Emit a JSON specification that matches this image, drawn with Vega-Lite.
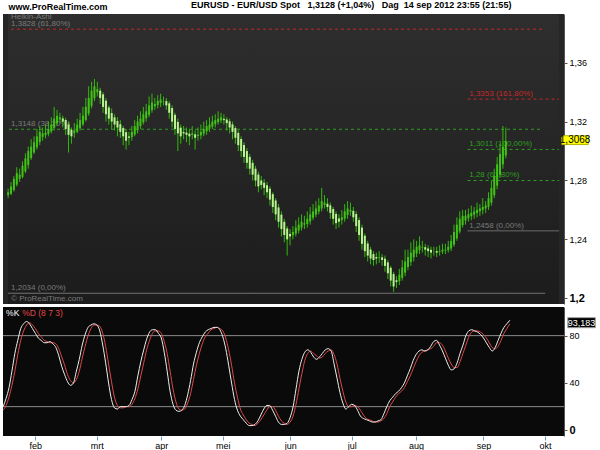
{
"$schema": "https://vega.github.io/schema/vega-lite/v6.json",
"background": "white",
"padding": {"left": 2, "top": 0, "right": 0, "bottom": 0},
"spacing": 3,
"config": {"font": "Liberation Sans", "view": {"stroke": null}},
"title": {"text": "www.ProRealTime.com", "anchor": "start", "fontSize": 9, "fontWeight": "bold", "color": "#000", "dx": 6, "dy": 11, "offset": 0},
"datasets": {
"candles": [
{"i":-11,"o":1.2700,"h":1.2745,"l":1.2680,"c":1.2720,"k":20,"d":17},
{"i":-10,"o":1.2710,"h":1.2790,"l":1.2700,"c":1.2760,"k":27,"d":21},
{"i":-9,"o":1.2735,"h":1.2830,"l":1.2725,"c":1.2810,"k":36,"d":28},
{"i":-8,"o":1.2772,"h":1.2890,"l":1.2760,"c":1.2850,"k":50,"d":38},
{"i":-7,"o":1.2811,"h":1.2880,"l":1.2790,"c":1.2840,"k":65,"d":50},
{"i":-6,"o":1.2825,"h":1.2930,"l":1.2815,"c":1.2900,"k":76,"d":64},
{"i":-5,"o":1.2862,"h":1.2985,"l":1.2850,"c":1.2950,"k":86,"d":76},
{"i":-4,"o":1.2906,"h":1.3030,"l":1.2880,"c":1.3000,"k":90,"d":84},
{"i":-3,"o":1.2953,"h":1.3080,"l":1.2940,"c":1.3030,"k":92,"d":89},
{"i":-2,"o":1.2991,"h":1.3100,"l":1.2980,"c":1.3060,"k":90,"d":91},
{"i":-1,"o":1.3025,"h":1.3150,"l":1.3010,"c":1.3100,"k":86,"d":89},
{"i":0,"o":1.3062,"h":1.3170,"l":1.3040,"c":1.3130,"k":82,"d":86},
{"i":1,"o":1.3096,"h":1.3160,"l":1.3070,"c":1.3120,"k":78,"d":82},
{"i":2,"o":1.3108,"h":1.3180,"l":1.3085,"c":1.3125,"k":76,"d":79},
{"i":3,"o":1.3116,"h":1.3200,"l":1.3100,"c":1.3150,"k":74,"d":76},
{"i":4,"o":1.3133,"h":1.3230,"l":1.3120,"c":1.3180,"k":74,"d":75},
{"i":5,"o":1.3156,"h":1.3300,"l":1.3140,"c":1.3220,"k":75,"d":74},
{"i":6,"o":1.3188,"h":1.3280,"l":1.3170,"c":1.3240,"k":73,"d":74},
{"i":7,"o":1.3214,"h":1.3260,"l":1.3190,"c":1.3230,"k":70,"d":73},
{"i":8,"o":1.3222,"h":1.3240,"l":1.3160,"c":1.3200,"k":63,"d":69},
{"i":9,"o":1.3211,"h":1.3225,"l":1.3110,"c":1.3150,"k":54,"d":62},
{"i":10,"o":1.3180,"h":1.3200,"l":1.2990,"c":1.3110,"k":47,"d":55},
{"i":11,"o":1.3145,"h":1.3160,"l":1.3050,"c":1.3100,"k":41,"d":47},
{"i":12,"o":1.3122,"h":1.3190,"l":1.3090,"c":1.3140,"k":38,"d":42},
{"i":13,"o":1.3131,"h":1.3220,"l":1.3120,"c":1.3180,"k":40,"d":40},
{"i":14,"o":1.3155,"h":1.3260,"l":1.3140,"c":1.3210,"k":50,"d":43},
{"i":15,"o":1.3182,"h":1.3300,"l":1.3170,"c":1.3240,"k":60,"d":50},
{"i":16,"o":1.3211,"h":1.3360,"l":1.3200,"c":1.3300,"k":72,"d":61},
{"i":17,"o":1.3255,"h":1.3440,"l":1.3240,"c":1.3360,"k":81,"d":71},
{"i":18,"o":1.3307,"h":1.3470,"l":1.3290,"c":1.3410,"k":87,"d":80},
{"i":19,"o":1.3358,"h":1.3490,"l":1.3340,"c":1.3440,"k":89,"d":86},
{"i":20,"o":1.3399,"h":1.3470,"l":1.3370,"c":1.3420,"k":90,"d":89},
{"i":21,"o":1.3410,"h":1.3430,"l":1.3320,"c":1.3360,"k":89,"d":89},
{"i":22,"o":1.3385,"h":1.3400,"l":1.3260,"c":1.3300,"k":84,"d":88},
{"i":23,"o":1.3342,"h":1.3360,"l":1.3200,"c":1.3250,"k":72,"d":82},
{"i":24,"o":1.3296,"h":1.3310,"l":1.3180,"c":1.3220,"k":57,"d":71},
{"i":25,"o":1.3258,"h":1.3290,"l":1.3150,"c":1.3200,"k":40,"d":56},
{"i":26,"o":1.3229,"h":1.3250,"l":1.3140,"c":1.3180,"k":26,"d":41},
{"i":27,"o":1.3204,"h":1.3230,"l":1.3100,"c":1.3160,"k":19,"d":28},
{"i":28,"o":1.3182,"h":1.3210,"l":1.3090,"c":1.3130,"k":18,"d":21},
{"i":29,"o":1.3156,"h":1.3170,"l":1.3040,"c":1.3100,"k":20,"d":19},
{"i":30,"o":1.3128,"h":1.3150,"l":1.3010,"c":1.3070,"k":20,"d":19},
{"i":31,"o":1.3099,"h":1.3130,"l":1.3040,"c":1.3090,"k":20,"d":20},
{"i":32,"o":1.3094,"h":1.3170,"l":1.3070,"c":1.3130,"k":21,"d":20},
{"i":33,"o":1.3112,"h":1.3210,"l":1.3100,"c":1.3170,"k":26,"d":22},
{"i":34,"o":1.3141,"h":1.3240,"l":1.3120,"c":1.3200,"k":33,"d":27},
{"i":35,"o":1.3170,"h":1.3270,"l":1.3150,"c":1.3220,"k":46,"d":35},
{"i":36,"o":1.3195,"h":1.3300,"l":1.3180,"c":1.3250,"k":58,"d":46},
{"i":37,"o":1.3222,"h":1.3320,"l":1.3200,"c":1.3270,"k":68,"d":57},
{"i":38,"o":1.3246,"h":1.3370,"l":1.3230,"c":1.3310,"k":77,"d":68},
{"i":39,"o":1.3278,"h":1.3390,"l":1.3260,"c":1.3330,"k":83,"d":76},
{"i":40,"o":1.3304,"h":1.3360,"l":1.3280,"c":1.3320,"k":85,"d":82},
{"i":41,"o":1.3312,"h":1.3380,"l":1.3290,"c":1.3340,"k":85,"d":84},
{"i":42,"o":1.3326,"h":1.3390,"l":1.3300,"c":1.3350,"k":82,"d":84},
{"i":43,"o":1.3338,"h":1.3370,"l":1.3310,"c":1.3340,"k":78,"d":82},
{"i":44,"o":1.3339,"h":1.3360,"l":1.3280,"c":1.3310,"k":66,"d":75},
{"i":45,"o":1.3324,"h":1.3340,"l":1.3220,"c":1.3260,"k":50,"d":65},
{"i":46,"o":1.3292,"h":1.3310,"l":1.3160,"c":1.3200,"k":33,"d":50},
{"i":47,"o":1.3246,"h":1.3260,"l":1.3110,"c":1.3150,"k":22,"d":35},
{"i":48,"o":1.3198,"h":1.3220,"l":1.3000,"c":1.3120,"k":17,"d":24},
{"i":49,"o":1.3159,"h":1.3180,"l":1.3050,"c":1.3100,"k":16,"d":18},
{"i":50,"o":1.3130,"h":1.3170,"l":1.3080,"c":1.3120,"k":17,"d":17},
{"i":51,"o":1.3125,"h":1.3160,"l":1.3060,"c":1.3110,"k":21,"d":18},
{"i":52,"o":1.3118,"h":1.3150,"l":1.3040,"c":1.3100,"k":30,"d":23},
{"i":53,"o":1.3109,"h":1.3170,"l":1.3080,"c":1.3120,"k":42,"d":31},
{"i":54,"o":1.3114,"h":1.3140,"l":1.3010,"c":1.3090,"k":56,"d":43},
{"i":55,"o":1.3102,"h":1.3160,"l":1.3070,"c":1.3110,"k":66,"d":55},
{"i":56,"o":1.3106,"h":1.3180,"l":1.3080,"c":1.3130,"k":74,"d":65},
{"i":57,"o":1.3118,"h":1.3200,"l":1.3100,"c":1.3150,"k":79,"d":73},
{"i":58,"o":1.3134,"h":1.3210,"l":1.3110,"c":1.3170,"k":83,"d":79},
{"i":59,"o":1.3152,"h":1.3230,"l":1.3130,"c":1.3180,"k":85,"d":82},
{"i":60,"o":1.3166,"h":1.3240,"l":1.3150,"c":1.3200,"k":86,"d":85},
{"i":61,"o":1.3183,"h":1.3250,"l":1.3160,"c":1.3210,"k":87,"d":86},
{"i":62,"o":1.3196,"h":1.3270,"l":1.3180,"c":1.3220,"k":87,"d":87},
{"i":63,"o":1.3208,"h":1.3260,"l":1.3190,"c":1.3230,"k":85,"d":86},
{"i":64,"o":1.3219,"h":1.3250,"l":1.3180,"c":1.3210,"k":79,"d":84},
{"i":65,"o":1.3214,"h":1.3230,"l":1.3140,"c":1.3190,"k":69,"d":78},
{"i":66,"o":1.3202,"h":1.3220,"l":1.3120,"c":1.3160,"k":55,"d":68},
{"i":67,"o":1.3181,"h":1.3200,"l":1.3080,"c":1.3130,"k":40,"d":55},
{"i":68,"o":1.3156,"h":1.3170,"l":1.3050,"c":1.3090,"k":26,"d":40},
{"i":69,"o":1.3123,"h":1.3140,"l":1.3000,"c":1.3040,"k":17,"d":28},
{"i":70,"o":1.3082,"h":1.3100,"l":1.2960,"c":1.3000,"k":12,"d":18},
{"i":71,"o":1.3041,"h":1.3060,"l":1.2920,"c":1.2960,"k":9,"d":13},
{"i":72,"o":1.3000,"h":1.3020,"l":1.2880,"c":1.2920,"k":6,"d":9},
{"i":73,"o":1.2960,"h":1.2980,"l":1.2840,"c":1.2880,"k":4,"d":6},
{"i":74,"o":1.2920,"h":1.2940,"l":1.2800,"c":1.2840,"k":4,"d":5},
{"i":75,"o":1.2880,"h":1.2900,"l":1.2760,"c":1.2800,"k":5,"d":4},
{"i":76,"o":1.2840,"h":1.2860,"l":1.2720,"c":1.2760,"k":8,"d":6},
{"i":77,"o":1.2800,"h":1.2830,"l":1.2740,"c":1.2770,"k":13,"d":9},
{"i":78,"o":1.2785,"h":1.2810,"l":1.2700,"c":1.2750,"k":18,"d":13},
{"i":79,"o":1.2768,"h":1.2790,"l":1.2680,"c":1.2720,"k":21,"d":17},
{"i":80,"o":1.2744,"h":1.2760,"l":1.2630,"c":1.2670,"k":21,"d":20},
{"i":81,"o":1.2707,"h":1.2720,"l":1.2580,"c":1.2620,"k":17,"d":20},
{"i":82,"o":1.2664,"h":1.2680,"l":1.2530,"c":1.2570,"k":12,"d":17},
{"i":83,"o":1.2617,"h":1.2640,"l":1.2480,"c":1.2520,"k":7,"d":12},
{"i":84,"o":1.2568,"h":1.2590,"l":1.2420,"c":1.2470,"k":5,"d":8},
{"i":85,"o":1.2519,"h":1.2540,"l":1.2380,"c":1.2430,"k":5,"d":6},
{"i":86,"o":1.2474,"h":1.2490,"l":1.2290,"c":1.2400,"k":6,"d":5},
{"i":87,"o":1.2437,"h":1.2470,"l":1.2360,"c":1.2420,"k":11,"d":7},
{"i":88,"o":1.2428,"h":1.2490,"l":1.2400,"c":1.2450,"k":20,"d":12},
{"i":89,"o":1.2439,"h":1.2530,"l":1.2420,"c":1.2480,"k":35,"d":22},
{"i":90,"o":1.2460,"h":1.2550,"l":1.2440,"c":1.2500,"k":50,"d":35},
{"i":91,"o":1.2480,"h":1.2570,"l":1.2460,"c":1.2520,"k":60,"d":48},
{"i":92,"o":1.2500,"h":1.2560,"l":1.2470,"c":1.2510,"k":66,"d":59},
{"i":93,"o":1.2505,"h":1.2590,"l":1.2480,"c":1.2540,"k":68,"d":65},
{"i":94,"o":1.2522,"h":1.2620,"l":1.2500,"c":1.2570,"k":66,"d":67},
{"i":95,"o":1.2546,"h":1.2640,"l":1.2530,"c":1.2590,"k":62,"d":65},
{"i":96,"o":1.2568,"h":1.2660,"l":1.2550,"c":1.2610,"k":60,"d":63},
{"i":97,"o":1.2589,"h":1.2680,"l":1.2570,"c":1.2630,"k":62,"d":61},
{"i":98,"o":1.2610,"h":1.2750,"l":1.2590,"c":1.2660,"k":65,"d":62},
{"i":99,"o":1.2635,"h":1.2700,"l":1.2610,"c":1.2650,"k":68,"d":65},
{"i":100,"o":1.2642,"h":1.2680,"l":1.2590,"c":1.2620,"k":69,"d":67},
{"i":101,"o":1.2631,"h":1.2650,"l":1.2540,"c":1.2580,"k":67,"d":68},
{"i":102,"o":1.2606,"h":1.2620,"l":1.2500,"c":1.2540,"k":56,"d":64},
{"i":103,"o":1.2573,"h":1.2590,"l":1.2470,"c":1.2510,"k":44,"d":56},
{"i":104,"o":1.2542,"h":1.2570,"l":1.2480,"c":1.2520,"k":32,"d":44},
{"i":105,"o":1.2531,"h":1.2600,"l":1.2500,"c":1.2550,"k":23,"d":33},
{"i":106,"o":1.2540,"h":1.2640,"l":1.2520,"c":1.2590,"k":18,"d":24},
{"i":107,"o":1.2565,"h":1.2660,"l":1.2540,"c":1.2610,"k":20,"d":20},
{"i":108,"o":1.2588,"h":1.2650,"l":1.2560,"c":1.2600,"k":22,"d":20},
{"i":109,"o":1.2594,"h":1.2620,"l":1.2520,"c":1.2550,"k":21,"d":21},
{"i":110,"o":1.2572,"h":1.2590,"l":1.2450,"c":1.2490,"k":17,"d":20},
{"i":111,"o":1.2531,"h":1.2550,"l":1.2390,"c":1.2430,"k":12,"d":17},
{"i":112,"o":1.2480,"h":1.2500,"l":1.2330,"c":1.2370,"k":10,"d":13},
{"i":113,"o":1.2425,"h":1.2440,"l":1.2280,"c":1.2320,"k":9,"d":10},
{"i":114,"o":1.2372,"h":1.2390,"l":1.2250,"c":1.2290,"k":8,"d":9},
{"i":115,"o":1.2331,"h":1.2350,"l":1.2230,"c":1.2270,"k":7,"d":8},
{"i":116,"o":1.2300,"h":1.2320,"l":1.2220,"c":1.2260,"k":7,"d":7},
{"i":117,"o":1.2280,"h":1.2310,"l":1.2230,"c":1.2270,"k":8,"d":7},
{"i":118,"o":1.2275,"h":1.2320,"l":1.2240,"c":1.2280,"k":9,"d":8},
{"i":119,"o":1.2278,"h":1.2300,"l":1.2220,"c":1.2260,"k":14,"d":10},
{"i":120,"o":1.2269,"h":1.2290,"l":1.2180,"c":1.2220,"k":20,"d":14},
{"i":121,"o":1.2244,"h":1.2260,"l":1.2130,"c":1.2170,"k":25,"d":20},
{"i":122,"o":1.2207,"h":1.2220,"l":1.2080,"c":1.2120,"k":28,"d":24},
{"i":123,"o":1.2164,"h":1.2180,"l":1.2044,"c":1.2080,"k":31,"d":28},
{"i":124,"o":1.2122,"h":1.2150,"l":1.2070,"c":1.2110,"k":33,"d":31},
{"i":125,"o":1.2116,"h":1.2200,"l":1.2090,"c":1.2160,"k":36,"d":33},
{"i":126,"o":1.2138,"h":1.2260,"l":1.2120,"c":1.2210,"k":40,"d":36},
{"i":127,"o":1.2174,"h":1.2330,"l":1.2150,"c":1.2250,"k":46,"d":41},
{"i":128,"o":1.2212,"h":1.2330,"l":1.2190,"c":1.2280,"k":52,"d":46},
{"i":129,"o":1.2246,"h":1.2380,"l":1.2220,"c":1.2310,"k":59,"d":52},
{"i":130,"o":1.2278,"h":1.2400,"l":1.2250,"c":1.2330,"k":64,"d":58},
{"i":131,"o":1.2304,"h":1.2390,"l":1.2280,"c":1.2350,"k":67,"d":63},
{"i":132,"o":1.2327,"h":1.2420,"l":1.2300,"c":1.2360,"k":68,"d":66},
{"i":133,"o":1.2344,"h":1.2390,"l":1.2310,"c":1.2350,"k":67,"d":67},
{"i":134,"o":1.2347,"h":1.2370,"l":1.2290,"c":1.2330,"k":68,"d":68},
{"i":135,"o":1.2338,"h":1.2360,"l":1.2280,"c":1.2320,"k":71,"d":69},
{"i":136,"o":1.2329,"h":1.2350,"l":1.2270,"c":1.2310,"k":75,"d":71},
{"i":137,"o":1.2320,"h":1.2350,"l":1.2290,"c":1.2320,"k":76,"d":74},
{"i":138,"o":1.2320,"h":1.2350,"l":1.2280,"c":1.2310,"k":72,"d":74},
{"i":139,"o":1.2315,"h":1.2360,"l":1.2290,"c":1.2320,"k":67,"d":72},
{"i":140,"o":1.2318,"h":1.2370,"l":1.2300,"c":1.2330,"k":61,"d":67},
{"i":141,"o":1.2324,"h":1.2370,"l":1.2300,"c":1.2330,"k":55,"d":61},
{"i":142,"o":1.2327,"h":1.2390,"l":1.2310,"c":1.2350,"k":51,"d":56},
{"i":143,"o":1.2338,"h":1.2430,"l":1.2320,"c":1.2390,"k":52,"d":53},
{"i":144,"o":1.2364,"h":1.2500,"l":1.2350,"c":1.2450,"k":57,"d":53},
{"i":145,"o":1.2407,"h":1.2550,"l":1.2390,"c":1.2500,"k":65,"d":58},
{"i":146,"o":1.2454,"h":1.2590,"l":1.2440,"c":1.2540,"k":72,"d":65},
{"i":147,"o":1.2497,"h":1.2600,"l":1.2480,"c":1.2560,"k":80,"d":72},
{"i":148,"o":1.2528,"h":1.2600,"l":1.2500,"c":1.2560,"k":84,"d":79},
{"i":149,"o":1.2544,"h":1.2610,"l":1.2520,"c":1.2570,"k":85,"d":83},
{"i":150,"o":1.2557,"h":1.2630,"l":1.2530,"c":1.2580,"k":84,"d":84},
{"i":151,"o":1.2568,"h":1.2620,"l":1.2540,"c":1.2590,"k":83,"d":84},
{"i":152,"o":1.2579,"h":1.2650,"l":1.2550,"c":1.2600,"k":81,"d":83},
{"i":153,"o":1.2590,"h":1.2640,"l":1.2560,"c":1.2610,"k":78,"d":81},
{"i":154,"o":1.2600,"h":1.2680,"l":1.2570,"c":1.2620,"k":74,"d":78},
{"i":155,"o":1.2610,"h":1.2660,"l":1.2580,"c":1.2630,"k":70,"d":74},
{"i":156,"o":1.2620,"h":1.2720,"l":1.2600,"c":1.2680,"k":67,"d":70},
{"i":157,"o":1.2650,"h":1.2800,"l":1.2630,"c":1.2750,"k":70,"d":69},
{"i":158,"o":1.2700,"h":1.2880,"l":1.2680,"c":1.2830,"k":76,"d":71},
{"i":159,"o":1.2765,"h":1.2960,"l":1.2740,"c":1.2910,"k":82,"d":76},
{"i":160,"o":1.2838,"h":1.3050,"l":1.2820,"c":1.2980,"k":87,"d":82},
{"i":161,"o":1.2909,"h":1.3170,"l":1.2880,"c":1.3030,"k":90,"d":86},
{"i":162,"o":1.2970,"h":1.3160,"l":1.2950,"c":1.3068,"k":93,"d":90}
],
"levels": [
{"p":1.3828,"x1":-10,"x2":174.6,"tx":-10,"c":"r","lc":"k","s":"dash","t":"1,3828 (61,80%)"},
{"p":1.3148,"x1":-10.7,"x2":174.6,"tx":-10,"c":"g","lc":"k","s":"dash","t":"1,3148 (38,20%)"},
{"p":1.2034,"x1":-11,"x2":175.7,"tx":-10,"c":"k","lc":"k","s":"solid","t":"1,2034 (0,00%)"},
{"p":1.3353,"x1":148.7,"x2":180.5,"tx":149.3,"c":"r","lc":"r","s":"dash","t":"1,3353 (161,80%)"},
{"p":1.3011,"x1":148.7,"x2":180.5,"tx":149.3,"c":"g","lc":"g","s":"dash","t":"1,3011 (100,00%)"},
{"p":1.28,"x1":148.7,"x2":180.5,"tx":149.3,"c":"g","lc":"g","s":"dash","t":"1,28 (61,80%)"},
{"p":1.2458,"x1":148.7,"x2":180.5,"tx":149.3,"c":"k","lc":"k","s":"solid","t":"1,2458 (0,00%)"}
]
},
"vconcat": [
{
"width": 561, "height": 290,
"title": {"text": "EURUSD - EUR/USD Spot\u00a0\u00a0\u00a01,3128 (+1,04%)\u00a0\u00a0\u00a0Dag\u00a0\u00a014 sep 2012 23:55 (21:55)", "anchor": "start", "dx": 188, "fontSize": 9, "fontWeight": "bold", "color": "#000", "offset": 3},
"view": {"fill": "#262626", "stroke": null},
"layer": [
{
"data": {"values": [{"bg": 1}]},
"mark": {"type": "rect", "color": {"gradient": "linear", "x1": 0, "y1": 0, "x2": 0, "y2": 1, "stops": [{"offset": 0, "color": "#2e2e2e"}, {"offset": 1, "color": "#1c1c1c"}]}},
"encoding": {
"x": {"datum": -11.05, "type": "quantitative", "scale": {"domain": [-11.05, 180.5], "nice": false, "zero": false}, "axis": null},
"x2": {"datum": 180.5},
"y": {"datum": 1.3931, "type": "quantitative", "scale": {"domain": [1.1961, 1.3931], "nice": false, "zero": false},
"axis": {"orient": "right", "title": null, "grid": false, "labelOverlap": false,
"values": [1.2,1.21,1.22,1.23,1.24,1.25,1.26,1.27,1.28,1.29,1.3,1.31,1.32,1.33,1.34,1.35,1.36,1.37,1.38,1.39],
"labelExpr": "round(datum.value*100)%2==0 ? replace(format(datum.value,'.2~f'),'.',',') : ''",
"labelFontWeight": {"condition": {"test": "round(datum.value*100)%10==0", "value": "bold"}, "value": "normal"},
"labelFontSize": {"condition": {"test": "round(datum.value*100)%10==0", "value": 11}, "value": 9},
"labelColor": "#000", "tickColor": "#555", "tickSize": 3, "domainColor": "#555", "labelPadding": 2}},
"y2": {"datum": 1.1961}
}
},
{
"data": {"name": "levels"},
"mark": {"type": "rule", "strokeWidth": 1, "clip": true},
"encoding": {
"x": {"field": "x1", "type": "quantitative"},
"x2": {"field": "x2"},
"y": {"field": "p", "type": "quantitative", "title": null},
"color": {"field": "c", "type": "nominal", "scale": {"domain": ["r", "g", "k"], "range": ["#c62828", "#2e9e1e", "#7a7a7a"]}, "legend": null},
"strokeDash": {"field": "s", "type": "nominal", "scale": {"domain": ["dash", "solid"], "range": [[3, 3], [1, 0]]}, "legend": null}
}
},
{
"data": {"name": "levels"},
"mark": {"type": "text", "align": "left", "baseline": "middle", "dy": -5, "fontSize": 8},
"encoding": {
"x": {"field": "tx", "type": "quantitative"},
"y": {"field": "p", "type": "quantitative", "title": null},
"text": {"field": "t"},
"color": {"field": "lc", "type": "nominal", "legend": null}
}
},
{
"data": {"values": [{"a": 1}]},
"mark": {"type": "text", "text": "Heikin-Ashi", "align": "left", "baseline": "middle", "fontSize": 8, "color": "#7a7a7a"},
"encoding": {"x": {"datum": -10, "type": "quantitative"}, "y": {"datum": 1.3914, "type": "quantitative"}}
},
{
"data": {"values": [{"a": 1}]},
"mark": {"type": "text", "text": "\u00a9 ProRealTime.com", "align": "left", "baseline": "middle", "fontSize": 8, "color": "#7a7a7a"},
"encoding": {"x": {"datum": -10, "type": "quantitative"}, "y": {"datum": 1.1995, "type": "quantitative"}}
},
{
"data": {"name": "candles"},
"mark": {"type": "rule", "strokeWidth": 1, "color": "#34b80c", "clip": true},
"encoding": {
"x": {"field": "i", "type": "quantitative"},
"y": {"field": "l", "type": "quantitative", "title": null},
"y2": {"field": "h"}
}
},
{
"data": {"name": "candles"},
"mark": {"type": "bar", "width": 2, "clip": true},
"encoding": {
"x": {"field": "i", "type": "quantitative"},
"y": {"field": "o", "type": "quantitative", "title": null},
"y2": {"field": "c"},
"color": {"condition": {"test": "datum.c > datum.o", "value": "#41c216"}, "value": "#b9f58f"}
}
},
{
"data": {"values": [{"a": 1}]},
"mark": {"type": "rect", "fill": "#ffff00", "stroke": "#b8b800", "strokeWidth": 1},
"encoding": {"x": {"datum": 181.5, "type": "quantitative"}, "x2": {"datum": 190.7}, "y": {"datum": 1.3104, "type": "quantitative"}, "y2": {"datum": 1.3044}}
},
{
"data": {"values": [{"a": 1}]},
"mark": {"type": "text", "text": "1,3068", "align": "center", "baseline": "middle", "fontSize": 10, "color": "#000"},
"encoding": {"x": {"datum": 186.1, "type": "quantitative"}, "y": {"datum": 1.3074, "type": "quantitative"}}
}
]
},
{
"width": 561, "height": 129,
"view": {"fill": "#0a0a0a", "stroke": null},
"layer": [
{
"data": {"values": [{"lv": 80}, {"lv": 20}]},
"mark": {"type": "rule", "color": "#8c8c8c", "strokeWidth": 1},
"encoding": {
"y": {"field": "lv", "type": "quantitative", "scale": {"domain": [-4.8, 104.2], "nice": false, "zero": false},
"axis": {"orient": "right", "title": null, "grid": false, "labelOverlap": false,
"values": [0,10,20,30,40,50,60,70,80,90,100],
"labelExpr": "datum.value%20==0 ? datum.value : ''",
"labelFontWeight": {"condition": {"test": "datum.value==0", "value": "bold"}, "value": "normal"},
"labelFontSize": {"condition": {"test": "datum.value==0", "value": 11}, "value": 9},
"labelColor": "#000", "tickColor": "#555", "tickSize": 3, "domainColor": "#555", "labelPadding": 2}}
}
},
{
"data": {"name": "candles"},
"mark": {"type": "line", "color": "#e04848", "strokeWidth": 1, "interpolate": "monotone", "clip": true},
"encoding": {
"x": {"field": "i", "type": "quantitative", "scale": {"domain": [-11.05, 180.5], "nice": false, "zero": false},
"axis": {"title": null, "grid": false, "domain": false, "labelOverlap": false, "values": [0,21,43,64,87,108,130,153,174],
"labelExpr": "['feb','mrt','apr','mei','jun','jul','aug','sep','okt'][indexof([0,21,43,64,87,108,130,153,174], datum.value)]",
"labelFontSize": 9, "labelColor": "#000", "tickColor": "#7b98b5", "tickSize": 4, "labelPadding": 1}},
"y": {"field": "d", "type": "quantitative", "title": null}
}
},
{
"data": {"name": "candles"},
"mark": {"type": "line", "color": "#eeeeee", "strokeWidth": 1, "interpolate": "monotone", "clip": true},
"encoding": {
"x": {"field": "i", "type": "quantitative"},
"y": {"field": "k", "type": "quantitative", "title": null}
}
},
{
"data": {"values": [{"a": 1}]},
"mark": {"type": "text", "text": "%K", "align": "left", "baseline": "middle", "fontSize": 8.5, "color": "#ffffff"},
"encoding": {"x": {"datum": -10, "type": "quantitative"}, "y": {"datum": 99.2, "type": "quantitative"}}
},
{
"data": {"values": [{"a": 1}]},
"mark": {"type": "text", "text": "%D (8 7 3)", "align": "left", "baseline": "middle", "fontSize": 8.5, "color": "#e04848"},
"encoding": {"x": {"datum": -4.5, "type": "quantitative"}, "y": {"datum": 99.2, "type": "quantitative"}}
},
{
"data": {"values": [{"a": 1}]},
"mark": {"type": "rect", "fill": "#000000", "stroke": "#a0a0a0", "strokeWidth": 1},
"encoding": {"x": {"datum": 181.8, "type": "quantitative"}, "x2": {"datum": 191.2}, "y": {"datum": 95.2, "type": "quantitative"}, "y2": {"datum": 86.7}}
},
{
"data": {"values": [{"a": 1}]},
"mark": {"type": "text", "text": "93,183", "align": "center", "baseline": "middle", "fontSize": 9, "color": "#ffffff"},
"encoding": {"x": {"datum": 186.5, "type": "quantitative"}, "y": {"datum": 91, "type": "quantitative"}}
}
]
}
]
}
